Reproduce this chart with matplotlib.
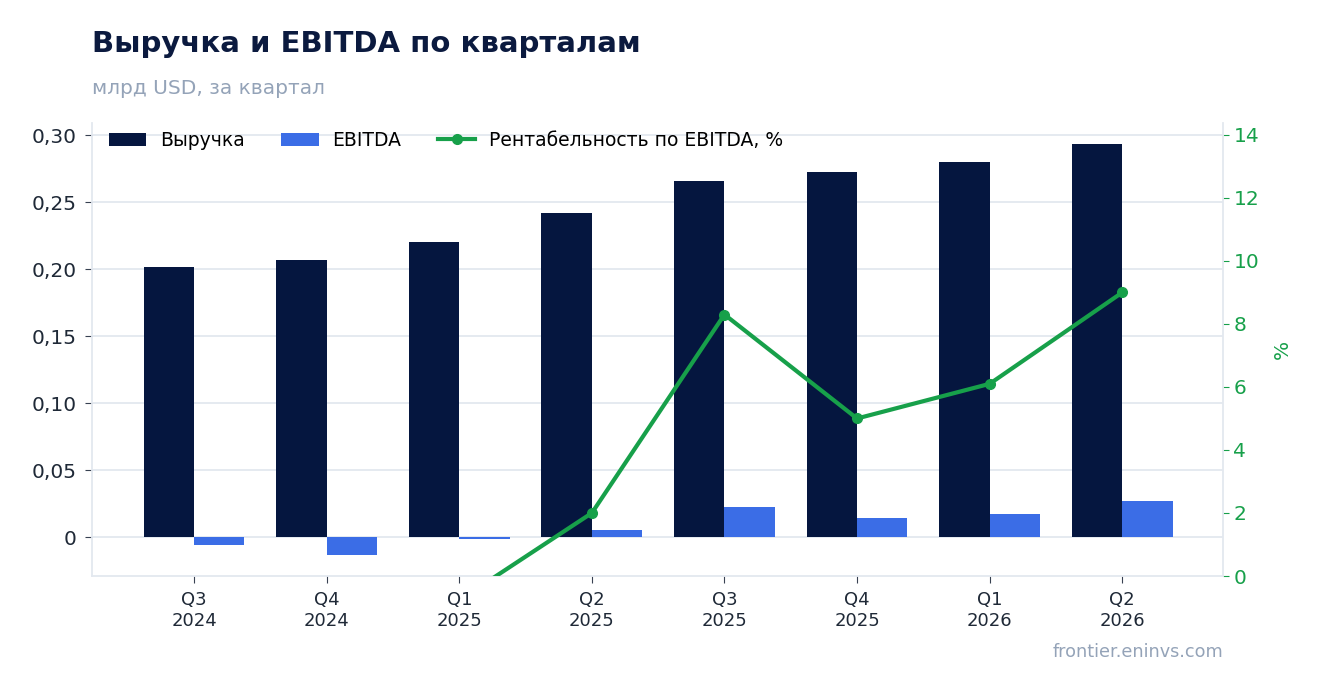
import numpy as np
import matplotlib.pyplot as plt
from matplotlib.ticker import FuncFormatter

# данные (млрд USD за квартал)
quarters = ["Q3\n2024", "Q4\n2024", "Q1\n2025", "Q2\n2025",
            "Q3\n2025", "Q4\n2025", "Q1\n2026", "Q2\n2026"]
revenue = [0.2015, 0.2067, 0.2200, 0.2418, 0.2657, 0.2724, 0.2799, 0.2933]
ebitda = [-0.0060, -0.0134, -0.0015, 0.0052, 0.0224, 0.0142, 0.0172, 0.0269]
margin = [-3.0, -6.5, -0.77, 2.0, 8.3, 5.0, 6.1, 9.0]

navy = "#05163f"
blue = "#3b6de6"
green = "#17a04a"
grid_c = "#e3e8ef"

plt.rcParams['font.family'] = ['DejaVu Sans']

fig = plt.figure(figsize=(13.23, 6.93), dpi=100)
ax = fig.add_axes([92 / 1323, 1 - 576 / 693, (1223 - 92) / 1323, (576 - 123) / 693])

x = np.arange(len(quarters))
w = 0.38
b1 = ax.bar(x - w / 2, revenue, w, color=navy, label="Выручка", zorder=2)
b2 = ax.bar(x + w / 2, ebitda, w, color=blue, label="EBITDA", zorder=2)

ax.set_xlim(-0.77, 7.76)
ax.set_ylim(-0.029, 0.309)
ax.set_yticks([0, 0.05, 0.10, 0.15, 0.20, 0.25, 0.30])
ax.yaxis.set_major_formatter(FuncFormatter(
    lambda v, p: "0" if abs(v) < 1e-9 else f"{v:.2f}".replace(".", ",")))
ax.set_xticks(x)
ax.set_xticklabels(quarters, fontsize=13, color="#1f2937")
ax.tick_params(axis="y", labelsize=14.5, colors="#1f2937", length=5, color="#374151", pad=6)
ax.tick_params(axis="x", length=5, color="#374151", pad=6)
ax.grid(axis="y", color=grid_c, linewidth=1.3, zorder=0)
ax.set_axisbelow(True)
for s in ["top", "right"]:
    ax.spines[s].set_visible(False)
for s in ["left", "bottom"]:
    ax.spines[s].set_color(grid_c)
    ax.spines[s].set_linewidth(1.3)

ax2 = ax.twinx()
ln, = ax2.plot(x, margin, color=green, linewidth=3, marker="o", markersize=7,
               label="Рентабельность по EBITDA, %", zorder=3)
ax2.set_ylim(0, 14.38)
ax2.set_yticks([0, 2, 4, 6, 8, 10, 12, 14])
ax2.tick_params(axis="y", labelsize=14.5, colors=green, length=4)
ax2.set_ylabel("%", color=green, fontsize=14.5, labelpad=10)
for s in ["top", "left", "bottom"]:
    ax2.spines[s].set_visible(False)
ax2.spines["right"].set_color(grid_c)
ax2.spines["right"].set_linewidth(1.3)

ax.legend(handles=[b1, b2, ln], loc="upper left", ncol=3, frameon=False,
          fontsize=13.5, bbox_to_anchor=(0.0, 1.02), columnspacing=1.95,
          handlelength=2.0, handletextpad=0.72)

fig.text(92 / 1323, 1 - 44 / 693, "Выручка и EBITDA по кварталам", fontsize=21,
         fontweight="bold", color="#0b1a3f", va="center")
fig.text(92 / 1323, 1 - 88 / 693, "млрд USD, за квартал", fontsize=14.5,
         color="#94a3b8", va="center")
fig.text(1223 / 1323, 1 - 652 / 693, "frontier.eninvs.com", fontsize=12.7,
         color="#94a3b8", ha="right", va="center")

fig.savefig("out.png", dpi=100)
